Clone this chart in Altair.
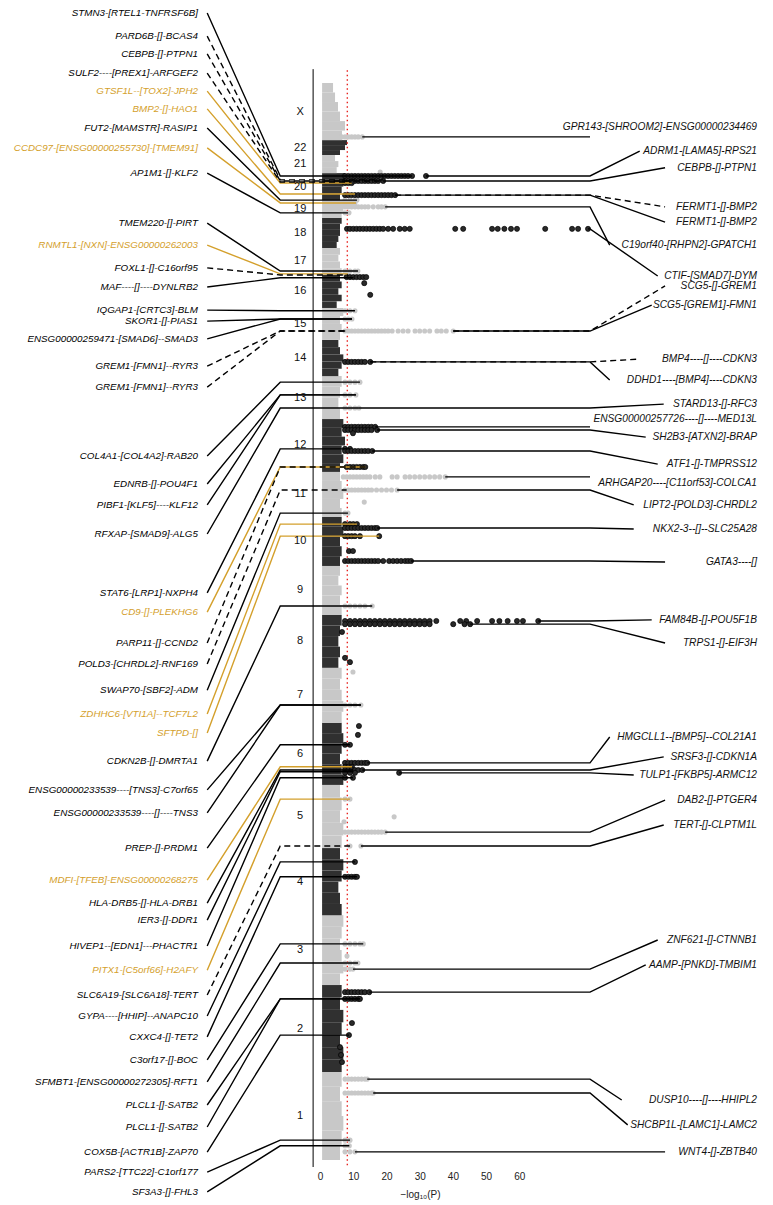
import altair as alt
import pandas as pd

# ---------------- data ----------------
# genome axis: cumulative position (Mb), chromosome 1 at the bottom
CHROMS = ["1", "2", "3", "4", "5", "6", "7", "8", "9", "10", "11", "12",
          "13", "14", "15", "16", "17", "18", "19", "20", "21", "22", "X"]
CHR_START = [0, 248, 493, 690, 879, 1057, 1232, 1387, 1536, 1674, 1812, 1939,
             2088, 2209, 2311, 2401, 2494, 2570, 2655, 2705, 2781, 2832, 2874]
CHR_END = [248, 493, 690, 879, 1057, 1232, 1387, 1536, 1674, 1812, 1939, 2088,
           2209, 2311, 2401, 2494, 2570, 2655, 2705, 2781, 2832, 2874, 3035]
# upper edge of the dense cloud of non-significant SNPs (-log10 P), start -> end
ENVELOPE = [
    [6.0, 6.5, 7.0, 6.5, 6.0, 6.5],
    [6.5, 7.0, 6.0, 6.5, 7.0, 6.0, 6.5],
    [6.0, 7.0, 6.5, 6.0, 6.5, 7.0],
    [6.5, 6.0, 5.5, 6.5, 7.0, 6.0],
    [6.5, 7.0, 6.0, 6.5, 6.0],
    [7.0, 6.5, 6.0, 6.5, 7.0, 6.5],
    [6.5, 7.0, 6.5, 6.0, 6.5],
    [5.5, 6.0, 5.5, 6.0, 6.5],
    [6.5, 6.0, 6.5, 5.5, 6.0],
    [6.0, 6.5, 6.0, 7.0, 6.5],
    [6.5, 6.0, 7.0, 6.5, 6.0],
    [6.0, 7.0, 6.5, 7.5, 6.5, 7.0],
    [6.0, 5.5, 6.0, 6.5],
    [5.5, 6.5, 7.0, 6.0, 5.5],
    [6.0, 6.5, 6.0, 7.0],
    [5.0, 6.5, 5.5, 6.5, 6.0],
    [6.5, 6.0, 5.5, 6.0],
    [5.0, 5.5, 6.0, 6.0, 6.5],
    [6.5, 7.0, 7.5],
    [6.0, 6.5, 7.0, 7.5],
    [5.0, 5.5, 4.5],
    [6.0, 7.5, 8.1],
    [6.6, 7.5, 6.0, 5.4, 4.5, 3.9],
]

# significant SNPs: chromosome, position, -log10(P) values along the row
HIT_CHR = ["X", "21", "20", "20", "20", "20", "19", "19", "19", "19", "18",
           "17", "17", "16", "16", "16", "15", "15", "15", "14", "13", "13", "13",
           "12", "12", "12", "12", "12", "12", "11", "11", "11", "11",
           "10", "10", "10", "10", "10", "9", "8", "8", "8", "8", "8", "7", "7",
           "6", "6", "6", "6", "6", "6", "6", "6", "5", "5", "5", "5", "5",
           "4", "4", "3", "3", "3", "3", "2", "2", "2", "2", "2", "2", "2",
           "1", "1", "1", "1", "1"]
HIT_POS = [2883, 2784, 2773, 2759, 2753, 2719, 2705, 2697, 2686, 2669, 2624,
           2505, 2497, 2488, 2471, 2438, 2393, 2370, 2336, 2249, 2192, 2156, 2119,
           2066, 2057, 2048, 2004, 1998, 1953, 1925, 1888, 1854, 1823,
           1792, 1781, 1758, 1716, 1688, 1561, 1519, 1510, 1488, 1415, 1403, 1375, 1282,
           1223, 1198, 1170, 1119, 1108, 1099, 1091, 1077, 1017, 967, 953, 924, 885,
           840, 798, 609, 575, 555, 538, 473, 454, 386, 352, 318, 296, 276,
           228, 189, 56, 40, 23]
HIT_VALS = [
    [6.5, 7.5, 8.5, 9.5, 10.5, 11.5, 12.7],
    [18.1],
    [7.5, 8.5, 9.5, 10.5, 11.5, 12.5, 13.5, 14.5, 15.5, 16.5, 17.5, 18.5, 19.5,
     20.5, 21.5, 22.5, 23.5, 24.5, 25.5, 26.5, 27.7, 31.9],
    [7.5, 8.5, 9.5, 10.5, 11.5, 12.5, 13.5, 14.5, 15.5, 16.5, 17.5, 19.0],
    [7.5, 8.5, 9.5],
    [7.5, 8.5, 9.5, 10.5, 11.5, 12.5, 13.5, 14.5, 15.5, 16.5, 17.5, 18.5, 19.5,
     20.5, 21.5, 22.6],
    [7.5, 9.0, 10.5, 11.1],
    [7.5, 8.5, 9.5, 10.5],
    [7.5, 8.5, 9.5, 10.5, 11.5, 12.5, 13.5, 14.5, 16.0, 17.5, 18.5, 19.6],
    [7.5, 8.7],
    [8.1, 9.0, 10.0, 11.0, 12.0, 13.0, 14.0, 15.0, 16.0, 17.0, 18.0, 19.0, 20.5,
     22.0, 24.0, 25.5, 27.0, 40.7, 43.1, 51.8, 53.5, 55.5, 57.5, 59.3, 67.8,
     75.9, 77.7, 80.7],
    [7.5, 9.0, 10.5, 11.4],
    [7.5, 8.4],
    [8.0, 9.0, 10.0, 11.0, 12.0, 13.0, 13.9],
    [13.3],
    [15.1],
    [7.5, 9.0, 10.5],
    [7.5, 8.5, 9.6],
    [7.5, 8.5, 9.5, 10.5, 11.5, 12.5, 13.5, 14.5, 15.5, 16.5, 17.5, 18.5, 19.5,
     20.5, 21.7, 23.5, 25.0, 26.5, 28.6, 30.0, 31.5, 33.0, 35.2, 36.5, 38.0, 40.1],
    [7.5, 8.5, 9.5, 10.5, 11.5, 12.5, 13.5, 15.1],
    [7.5, 9.0, 10.5, 12.0],
    [7.5, 9.0, 10.8],
    [7.5, 9.0, 10.5, 11.7],
    [7.5, 8.5, 9.5, 10.5, 11.5, 12.5, 13.5, 14.5, 15.5, 16.6],
    [7.5, 8.5, 9.5, 10.5, 11.5, 12.5, 13.5, 14.5, 15.5, 17.2],
    [9.9],
    [7.5, 9.0],
    [7.5, 8.5, 9.5, 10.5, 11.5, 12.5, 13.5, 14.5, 15.7],
    [8.0, 9.0, 10.0, 11.0, 12.0, 13.0, 13.6],
    [7.0, 8.0, 9.0, 10.0, 11.0, 12.0, 13.0, 14.0, 15.0, 16.6, 18.0, 21.7, 23.2,
     25.6, 27.0, 28.5, 30.0, 31.5, 33.0, 34.5, 36.0, 37.7],
    [7.5, 8.5, 9.5, 10.5, 11.5, 12.5, 13.5, 14.5, 15.5, 17.0, 18.5, 20.0, 21.5, 23.2],
    [13.3],
    [7.5, 8.4],
    [7.5, 9.0, 10.0, 11.1],
    [7.5, 8.5, 9.5, 10.5, 11.5, 12.5, 13.5, 14.5, 15.5, 16.5, 17.2],
    [7.5, 8.5, 9.5, 10.5, 12.0, 17.8],
    [8.7, 9.9],
    [7.5, 8.5, 9.5, 10.5, 11.5, 12.5, 13.5, 14.5, 15.5, 16.5, 17.5, 19.0, 20.8,
     22.0, 23.2, 24.4, 25.6, 26.5, 27.4],
    [7.5, 9.0, 10.5, 12.0, 13.5, 15.7],
    [7.5, 9.0, 10.5, 12.0, 13.5, 15.0, 16.5, 18.0, 19.5, 21.0, 22.5, 24.0, 25.5,
     27.0, 28.5, 30.0, 31.5, 33.0, 35.0, 42.2, 44.0, 47.3, 51.8, 54.0, 56.5,
     59.3, 61.1, 65.7],
    [7.5, 9.0, 10.5, 12.0, 13.5, 15.0, 16.5, 18.0, 19.5, 21.0, 22.5, 24.0, 25.5,
     27.0, 28.5, 30.0, 31.5, 33.0, 40.1, 43.5, 45.2],
    [6.6],
    [7.5],
    [9.0],
    [9.9],
    [7.5, 9.0, 10.5, 12.3],
    [11.7],
    [11.4],
    [7.5, 9.0],
    [7.5, 8.5, 9.5, 10.5, 11.5, 12.5, 13.5, 14.2],
    [7.5, 8.5, 9.6],
    [7.5, 8.5, 9.5, 10.5, 11.5, 12.7],
    [7.5, 9.0, 10.5, 23.8],
    [7.5, 9.9],
    [7.5, 9.0],
    [22.3],
    [7.2],
    [7.5, 8.5, 9.5, 10.5, 11.5, 12.5, 13.5, 14.5, 15.5, 16.5, 17.5, 18.5, 19.6],
    [9.0, 12.3],
    [10.5],
    [7.5, 8.5, 9.5, 10.5, 11.1],
    [7.5, 9.0, 10.5, 12.0, 13.0],
    [8.1],
    [7.5, 9.0, 10.5, 11.4],
    [7.5, 9.0, 9.9],
    [7.5, 8.5, 9.5, 10.5, 11.5, 12.5, 13.5, 14.8],
    [7.5, 8.5, 9.5, 10.5, 11.5, 12.0],
    [9.6],
    [8.7],
    [6.0],
    [6.3],
    [6.6],
    [7.5, 8.5, 9.5, 10.5, 11.5, 12.5, 13.5, 14.2],
    [7.5, 8.5, 9.5, 10.5, 11.5, 12.5, 13.5, 14.5, 15.5, 16.0],
    [7.5, 9.0],
    [7.5, 8.8],
    [7.5, 9.0, 10.5],
]

# left-hand annotations
LEFT_TEXT = [
    "STMN3-[RTEL1-TNFRSF6B]", "PARD6B-[]-BCAS4", "CEBPB-[]-PTPN1",
    "SULF2----[PREX1]-ARFGEF2", "GTSF1L--[TOX2]-JPH2", "BMP2-[]-HAO1",
    "FUT2-[MAMSTR]-RASIP1", "CCDC97-[ENSG00000255730]-[TMEM91]", "AP1M1-[]-KLF2",
    "TMEM220-[]-PIRT", "RNMTL1-[NXN]-ENSG00000262003", "FOXL1-[]-C16orf95",
    "MAF----[]----DYNLRB2", "IQGAP1-[CRTC3]-BLM", "SKOR1-[]-PIAS1",
    "ENSG00000259471-[SMAD6]--SMAD3", "GREM1-[FMN1]--RYR3", "GREM1-[FMN1]--RYR3",
    "COL4A1-[COL4A2]-RAB20", "EDNRB-[]-POU4F1", "PIBF1-[KLF5]----KLF12",
    "RFXAP-[SMAD9]-ALG5", "STAT6-[LRP1]-NXPH4", "CD9-[]-PLEKHG6",
    "PARP11-[]-CCND2", "POLD3-[CHRDL2]-RNF169", "SWAP70-[SBF2]-ADM",
    "ZDHHC6-[VTI1A]--TCF7L2", "SFTPD-[]", "CDKN2B-[]-DMRTA1",
    "ENSG00000233539----[TNS3]-C7orf65", "ENSG00000233539----[]----TNS3",
    "PREP-[]-PRDM1", "MDFI-[TFEB]-ENSG00000268275", "HLA-DRB5-[]-HLA-DRB1",
    "IER3-[]-DDR1", "HIVEP1--[EDN1]---PHACTR1", "PITX1-[C5orf66]-H2AFY",
    "SLC6A19-[SLC6A18]-TERT", "GYPA----[HHIP]--ANAPC10", "CXXC4-[]-TET2",
    "C3orf17-[]-BOC", "SFMBT1-[ENSG00000272305]-RFT1", "PLCL1-[]-SATB2",
    "PLCL1-[]-SATB2", "COX5B-[ACTR1B]-ZAP70", "PARS2-[TTC22]-C1orf177",
    "SF3A3-[]-FHL3",
]
LEFT_LABEL_POS = [3232, 3167, 3117, 3063, 3012, 2962, 2908, 2852, 2781, 2640,
                  2578, 2514, 2460, 2395, 2364, 2314, 2237, 2178, 1984, 1905,
                  1846, 1764, 1598, 1544, 1457, 1398, 1324, 1257, 1203, 1124,
                  1043, 978, 879, 789, 724, 676, 603, 535, 465, 406, 347, 282,
                  220, 155, 93, 22, -34, -90]
LEFT_LOCUS = [2773, 2762, 2759, 2756, 2753, 2722, 2705, 2697, 2669, 2505,
              2497, 2494, 2486, 2393, 2370, 2370, 2336, 2336, 2192, 2156,
              2156, 2119, 2004, 1953, 1953, 1888, 1823, 1792, 1758, 1561,
              1282, 1282, 1170, 1108, 1099, 1094, 1077, 1017, 885, 840, 798, 609,
              555, 454, 454, 352, 56, 40]
LEFT_LEAD = [27.7, 19.0, 19.0, 9.5, 9.5, 10.5, 11.1, 10.8, 8.4, 11.4,
             8.4, 8.4, 10.0, 10.5, 9.6, 9.6, 8.0, 8.0, 12.0, 10.8,
             10.8, 11.7, 9.0, 13.6, 13.6, 8.0, 8.4, 11.1, 17.8, 15.7,
             12.3, 12.3, 9.0, 9.6, 10.0, 10.0, 9.9, 9.0, 9.0, 10.5, 11.1, 13.0,
             11.4, 12.0, 12.0, 8.7, 9.0, 8.8]
LEFT_GROUP = ["known", "dashed", "dashed", "dashed", "novel", "novel", "known", "novel",
              "known", "known", "novel", "dashed", "known", "known", "known", "known",
              "dashed", "dashed", "known", "known", "known", "known", "known", "novel",
              "dashed", "dashed", "known", "novel", "novel", "known", "known", "known",
              "known", "novel", "known", "known", "known", "novel", "dashed", "known",
              "known", "known", "known", "known", "known", "known", "known", "known"]

# right-hand annotations
RIGHT_TEXT = [
    "GPR143-[SHROOM2]-ENSG00000234469", "ADRM1-[LAMA5]-RPS21", "CEBPB-[]-PTPN1",
    "FERMT1-[]-BMP2", "FERMT1-[]-BMP2", "C19orf40-[RHPN2]-GPATCH1",
    "CTIF-[SMAD7]-DYM", "SCG5-[]-GREM1", "SCG5-[GREM1]-FMN1",
    "BMP4----[]----CDKN3", "DDHD1----[BMP4]----CDKN3", "STARD13-[]-RFC3",
    "ENSG00000257726----[]----MED13L", "SH2B3-[ATXN2]-BRAP", "ATF1-[]-TMPRSS12",
    "ARHGAP20----[C11orf53]-COLCA1", "LIPT2-[POLD3]-CHRDL2", "NKX2-3--[]--SLC25A28",
    "GATA3----[]", "FAM84B-[]-POU5F1B", "TRPS1-[]-EIF3H",
    "HMGCLL1--[BMP5]--COL21A1", "SRSF3-[]-CDKN1A", "TULP1-[FKBP5]-ARMC12",
    "DAB2-[]-PTGER4", "TERT-[]-CLPTM1L", "ZNF621-[]-CTNNB1",
    "AAMP-[PNKD]-TMBIM1", "DUSP10----[]----HHIPL2", "SHCBP1L-[LAMC1]-LAMC2",
    "WNT4-[]-ZBTB40",
]
RIGHT_LABEL_POS = [2911, 2843, 2796, 2686, 2643, 2578, 2491, 2463, 2409, 2257,
                   2198, 2130, 2088, 2037, 1961, 1908, 1846, 1778, 1685, 1522,
                   1457, 1192, 1136, 1085, 1014, 944, 620, 550, 169, 99, 23]
RIGHT_LOCUS = [2883, 2773, 2759, 2719, 2719, 2686, 2624, 2336, 2336, 2249,
               2249, 2119, 2066, 2057, 1998, 1925, 1888, 1781, 1688, 1519,
               1510, 1119, 1099, 1091, 924, 885, 538, 473, 228, 189, 23]
RIGHT_LEAD = [12.7, 31.9, 19.0, 22.6, 22.6, 19.6, 80.7, 40.1, 40.1, 15.1,
              15.1, 11.7, 16.6, 17.2, 15.7, 37.7, 23.2, 17.2, 27.4, 65.7,
              45.2, 14.2, 12.7, 23.8, 19.6, 12.3, 9.9, 14.8, 14.2, 16.0, 10.5]
RIGHT_DASHED = [False, False, False, True, False, False, False, True, False, True,
                False, False, False, False, False, False, False, False, False, False,
                False, False, False, False, False, False, False, False, False, False,
                False]

X_TICKS = [0, 10, 20, 30, 40, 50, 60]
THRESHOLD = 8.2

# ---------------- layout (in data units of the shared scales) ----------------
X_DOMAIN = [-94.0, 134.0]
Y_DOMAIN = [-19.7, 3246.3]
PX_PER_UNIT = 757 / (X_DOMAIN[1] - X_DOMAIN[0])
CLOUD_BASE = 0.6
AXIS_X = -2.1
CHR_LABEL_X = -6.0
LEFT_TEXT_X = -36.8
LEFT_LINE_X = -34.0
LEFT_ELBOW = -12.0
RIGHT_ELBOW = 81.3
RIGHT_TEXT_X = 131.6
RIGHT_LINE_MAX = 103.9
PLOT_TOP = 3074

BLACK = "#000000"
GOLD = "#D4A02C"
DARK = "#303030"
LIGHT = "#C8C8C8"
FONT = "Liberation Sans"


def shade(c):
    return "light" if (c == "X" or int(c) % 2 == 1) else "dark"


mass_rows = []
for c, s, e, env in zip(CHROMS, CHR_START, CHR_END, ENVELOPE):
    step = (e - s) / len(env)
    for i, v in enumerate(env):
        mass_rows.append(dict(y0=s + i * step, y1=s + (i + 1) * step,
                              x0=CLOUD_BASE, x1=v, shade=shade(c)))
mass_df = pd.DataFrame(mass_rows)

hit_rows = []
for c, p, vals in zip(HIT_CHR, HIT_POS, HIT_VALS):
    for v in vals:
        hit_rows.append(dict(pos=p, val=v, shade=shade(c)))
hit_df = pd.DataFrame(hit_rows)

chr_df = pd.DataFrame(dict(
    name=CHROMS, x=[CHR_LABEL_X] * len(CHROMS),
    y=[(s + e) / 2 for s, e in zip(CHR_START, CHR_END)]))

line_rows = []
lid = 0
for lp, loc, lead, grp in zip(LEFT_LABEL_POS, LEFT_LOCUS, LEFT_LEAD, LEFT_GROUP):
    col = GOLD if grp == "novel" else BLACK
    dash = "dashed" if grp == "dashed" else "solid"
    for k, (x, y) in enumerate([(LEFT_LINE_X, lp), (LEFT_ELBOW, loc), (lead, loc)]):
        line_rows.append(dict(id=lid, k=k, x=x, y=y, col=col, dash=dash))
    lid += 1
for t, lp, loc, lead, dsh in zip(RIGHT_TEXT, RIGHT_LABEL_POS, RIGHT_LOCUS,
                                  RIGHT_LEAD, RIGHT_DASHED):
    text_w = len(t) * 6.0 / PX_PER_UNIT
    anchor = min(RIGHT_LINE_MAX, RIGHT_TEXT_X - text_w - 1.0)
    pts = [(lead, loc), (RIGHT_ELBOW, loc)]
    if anchor > RIGHT_ELBOW + 1:
        pts.append((anchor, lp))
    for k, (x, y) in enumerate(pts):
        line_rows.append(dict(id=lid, k=k, x=x, y=y, col=BLACK,
                              dash="dashed" if dsh else "solid"))
    lid += 1
line_df = pd.DataFrame(line_rows)

left_df = pd.DataFrame(dict(
    text=LEFT_TEXT, y=LEFT_LABEL_POS, x=[LEFT_TEXT_X] * len(LEFT_TEXT),
    col=[GOLD if g == "novel" else BLACK for g in LEFT_GROUP]))
right_df = pd.DataFrame(dict(
    text=RIGHT_TEXT, y=RIGHT_LABEL_POS, x=[RIGHT_TEXT_X] * len(RIGHT_TEXT)))

guide_df = pd.DataFrame(dict(
    kind=["axis", "threshold"], x=[AXIS_X, THRESHOLD],
    y=[PLOT_TOP, PLOT_TOP - 3], y2=[Y_DOMAIN[0], -15]))

# ---------------- chart ----------------
xs = alt.Scale(domain=X_DOMAIN, nice=False, zero=False)
ys = alt.Scale(domain=Y_DOMAIN, nice=False, zero=False)
xaxis = alt.Axis(values=X_TICKS, title="\u2212log\u2081\u2080(P)", domain=False,
                 ticks=False, grid=False, labelFontSize=10, labelFont=FONT,
                 labelColor="#222222", labelPadding=4, titleFont=FONT,
                 titleFontSize=10, titleFontWeight="normal", titleColor="#222222",
                 titleX=412, titleY=30, titleAlign="center",
                 titleBaseline="alphabetic")


def X(f):
    return alt.X(f, type="quantitative", scale=xs, axis=xaxis)


def Y(f):
    return alt.Y(f, type="quantitative", scale=ys, axis=None)


shade_color = alt.Color("shade:N", scale=alt.Scale(domain=["dark", "light"],
                                                   range=[DARK, LIGHT]), legend=None)

mass = alt.Chart(mass_df).mark_rect(strokeWidth=0).encode(
    x=X("x0"), x2="x1", y=Y("y0"), y2="y1", color=shade_color)

axis_line = alt.Chart(guide_df).transform_filter(alt.datum.kind == "axis").mark_rule(
    color="#000000", strokeWidth=1).encode(x=X("x"), y=Y("y"), y2="y2")
thresh = alt.Chart(guide_df).transform_filter(alt.datum.kind == "threshold").mark_rule(
    color="#E8231F", strokeWidth=1.4, strokeDash=[1.5, 3]).encode(
    x=X("x"), y=Y("y"), y2="y2")

hits_light = alt.Chart(hit_df).transform_filter(alt.datum.shade == "light").mark_circle(
    size=26, color=LIGHT, opacity=1).encode(x=X("val"), y=Y("pos"))
hits_dark = alt.Chart(hit_df).transform_filter(alt.datum.shade == "dark").mark_point(
    size=26, filled=True, fill="#2a2a2a", stroke="#000000", strokeWidth=0.7,
    opacity=1, shape="circle").encode(x=X("val"), y=Y("pos"))

solid_lines = alt.Chart(line_df).transform_filter(alt.datum.dash == "solid").mark_line(
    strokeWidth=1.4).encode(
    x=X("x"), y=Y("y"), detail="id:N", order="k:Q",
    color=alt.Color("col:N", scale=None))
dashed_lines = alt.Chart(line_df).transform_filter(alt.datum.dash == "dashed").mark_line(
    strokeWidth=1.4, strokeDash=[6, 4]).encode(
    x=X("x"), y=Y("y"), detail="id:N", order="k:Q",
    color=alt.Color("col:N", scale=None))

chr_text = alt.Chart(chr_df).mark_text(
    font=FONT, fontSize=11, color="#111111", align="center", baseline="middle").encode(
    x=X("x"), y=Y("y"), text="name:N")
left_text = alt.Chart(left_df).mark_text(
    font=FONT, fontSize=9.8, fontStyle="italic", align="right", baseline="middle").encode(
    x=X("x"), y=Y("y"), text="text:N", color=alt.Color("col:N", scale=None))
right_text = alt.Chart(right_df).mark_text(
    font=FONT, fontSize=10.2, fontStyle="italic", align="right", baseline="middle",
    color="#111111").encode(x=X("x"), y=Y("y"), text="text:N")

chart = alt.layer(
    mass, thresh, hits_light, hits_dark, solid_lines, dashed_lines, axis_line,
    chr_text, left_text, right_text
).properties(
    width=757, height=1159,
    autosize=alt.AutoSizeParams(type="none"),
    padding={"left": 0, "top": 0, "right": 0, "bottom": 36},
    background="white",
).configure_view(stroke=None)

chart.save("out.html", embed_options={"renderer": "svg", "actions": False})
